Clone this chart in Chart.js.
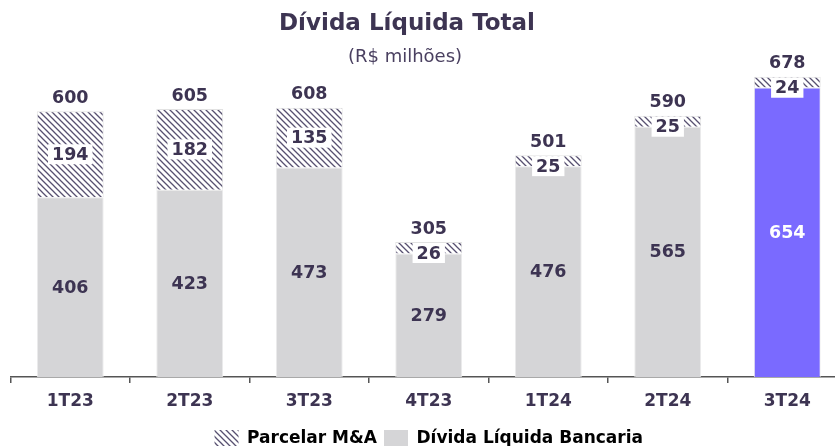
<!DOCTYPE html>
<html>
<head>
<meta charset="utf-8">
<script src="https://cdn.jsdelivr.net/npm/chart.js@4.4.1/dist/chart.umd.min.js"></script>
<style>
  html, body { margin: 0; padding: 0; background: #fff; overflow: hidden; }
  #wrap { position: relative; width: 850px; height: 446px; overflow: hidden; }
  #title { position: absolute; left: 0; width: 814px; top: 9px; text-align: center;
    font: bold 23px "DejaVu Sans", Verdana, sans-serif; color: #3d3452; }
  #subtitle { position: absolute; left: 0; width: 810px; top: 45px; text-align: center;
    font: 18px "DejaVu Sans", Verdana, sans-serif; color: #4a4060; }
  canvas { position: absolute; left: 0; top: 0; }
</style>
</head>
<body>
<div id="wrap">
  <canvas id="chart" width="850" height="457"></canvas>
  <div id="title">Dívida Líquida Total</div>
  <div id="subtitle">(R$ milhões)</div>
</div>
<script>
var categories = ['1T23', '2T23', '3T23', '4T23', '1T24', '2T24', '3T24'];
var bancaria = [406, 423, 473, 279, 476, 565, 654];
var parcelarMA = [194, 182, 135, 26, 25, 25, 24];
var totals = [600, 605, 608, 305, 501, 590, 678];

var textColor = '#3d3452';
var grayColor = '#d5d5d7';
var purpleColor = '#7a6aff';
var font = '"DejaVu Sans", Verdana, sans-serif';

function makeHatch() {
    var c = document.createElement('canvas');
    c.width = 6; c.height = 6;
    var g = c.getContext('2d');
    g.fillStyle = '#ffffff';
    g.fillRect(0, 0, 6, 6);
    g.strokeStyle = '#575070';
    g.lineWidth = 1.3;
    g.beginPath();
    g.moveTo(-1, -1); g.lineTo(7, 7);
    g.moveTo(-1, 5); g.lineTo(1, 7);
    g.moveTo(5, -1); g.lineTo(7, 1);
    g.stroke();
    return g.createPattern(c, 'repeat');
}
var hatch = makeHatch();

var barColors = bancaria.map(function (v, i) {
    return i === bancaria.length - 1 ? purpleColor : grayColor;
});

// value labels: inside segments and totals on top
var labelsPlugin = {
    id: 'valueLabels',
    afterDatasetsDraw: function (chart) {
        var ctx = chart.ctx;
        var bankMeta = chart.getDatasetMeta(0);
        var maMeta = chart.getDatasetMeta(1);
        ctx.save();
        ctx.font = 'bold 17.5px ' + font;
        ctx.textAlign = 'center';
        ctx.textBaseline = 'middle';
        bankMeta.data.forEach(function (bar, i) {
            var mid = (bar.y + bar.base) / 2;
            ctx.fillStyle = i === bancaria.length - 1 ? '#ffffff' : textColor;
            ctx.fillText(bancaria[i], bar.x, mid + 1);
        });
        maMeta.data.forEach(function (bar, i) {
            var mid = Math.max((bar.y + bar.base) / 2, bar.y + 11);
            var txt = String(parcelarMA[i]);
            var w = ctx.measureText(txt).width + 8;
            ctx.fillStyle = '#ffffff';
            ctx.fillRect(bar.x - w / 2, mid - 10, w, 20);
            ctx.fillStyle = textColor;
            ctx.fillText(txt, bar.x, mid + 1);
            ctx.fillText(totals[i], bar.x, bar.y - 13);
        });
        ctx.restore();
    }
};

new Chart(document.getElementById('chart'), {
    type: 'bar',
    data: {
        labels: categories,
        datasets: [{
            label: 'Dívida Líquida Bancaria',
            data: bancaria,
            backgroundColor: barColors,
            borderColor: '#ececec',
            borderWidth: 1,
            barPercentage: 0.56,
            categoryPercentage: 1
        }, {
            label: 'Parcelar M&A',
            data: parcelarMA,
            backgroundColor: hatch,
            borderColor: '#e2e2e2',
            borderWidth: 1,
            barPercentage: 0.56,
            categoryPercentage: 1
        }]
    },
    options: {
        responsive: false,
        animation: false,
        layout: { padding: { left: 10.5, right: 3, top: 67, bottom: 0 } },
        plugins: {
            title: { display: false },
            tooltip: { enabled: false },
            legend: {
                position: 'bottom',
                labels: {
                    color: textColor,
                    font: { family: font, size: 17, weight: 'bold' },
                    boxWidth: 24,
                    boxHeight: 17,
                    padding: 7,
                    generateLabels: function (chart) {
                        return [{
                            text: 'Parcelar M&A', fillStyle: hatch,
                            strokeStyle: '#ffffff', lineWidth: 0, datasetIndex: 1
                        }, {
                            text: 'Dívida Líquida Bancaria', fillStyle: grayColor,
                            strokeStyle: grayColor, lineWidth: 0, datasetIndex: 0
                        }];
                    }
                }
            }
        },
        scales: {
            x: {
                stacked: true,
                afterFit: function (scale) { scale.height += 2.5; },
                border: { display: true, color: '#555555', width: 1.5 },
                grid: { display: true, drawOnChartArea: false, tickLength: 6, color: '#555555', lineWidth: 1.5 },
                ticks: { color: textColor, font: { family: font, size: 17, weight: 'bold' }, padding: 8.5 }
            },
            y: {
                stacked: true,
                display: false,
                min: 0,
                max: 700
            }
        }
    },
    plugins: [labelsPlugin]
});
</script>
</body>
</html>
